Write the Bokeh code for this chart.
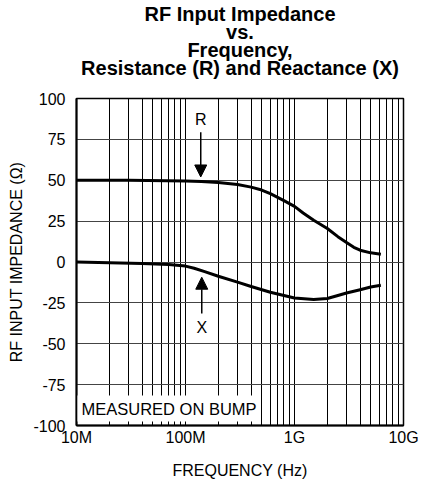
from bokeh.plotting import figure
from bokeh.models import (FixedTicker, CustomJSTickFormatter, Arrow, NormalHead,
                          Label, Title)
from bokeh.embed import file_html
from bokeh.resources import INLINE

# ---- data ----
r_freq = [1e7, 3e7, 1e8, 1.4e8, 2e8, 3e8, 4e8, 5e8, 6e8, 8e8, 1e9, 1.2e9,
          1.5e9, 2e9, 2.5e9, 3e9, 3.5e9, 4e9, 5e9, 6.2e9]
r_vals = [50, 50, 49.6, 49.3, 48.6, 47.4, 45.8, 44, 41.8, 37.5, 34, 30,
          25.5, 20.5, 15.5, 12, 9, 7.2, 5.6, 4.8]

x_freq = [1e7, 2e7, 4e7, 7e7, 1e8, 1.2e8, 1.5e8, 2e8, 3e8, 4e8, 6e8, 8e8, 1e9,
          1.5e9, 2e9, 2.5e9, 3e9, 4e9, 5e9, 6.2e9]
x_vals = [0, -0.4, -0.9, -1.6, -2.5, -3.8, -5.9, -8.7, -12.3, -15, -18.5, -20.5, -22,
          -23, -22.3, -20.5, -19, -17, -15.3, -14.2]

xtick_vals = [1e7, 1e8, 1e9, 1e10]
xtick_labels = ["10M", "100M", "1G", "10G"]
xminor = [k * 10 ** d for d in (7, 8, 9) for k in range(2, 10)]
ytick_vals = [-100, -75, -50, -25, 0, 25, 50, 75, 100]
ytick_labels = ["-100", "-75", "-50", "-25", "0", "25", "50", "75", "100"]

r_arrow = dict(x=1.38e8, y_start=79.4, y_end=52.0, label="R", label_y=87)
x_arrow = dict(x=1.41e8, y_start=-31.5, y_end=-9.3, label="X", label_y=-40)

title_lines = ["RF Input Impedance", "vs.", "Frequency,",
               "Resistance (R) and Reactance (X)"]
FONT = "Liberation Sans"

p = figure(x_axis_type="log", x_range=(1e7, 1e10), y_range=(-100, 100),
           frame_width=327, frame_height=327,
           min_border_left=76, min_border_right=20, min_border_top=98,
           min_border_bottom=56,
           output_backend="svg", toolbar_location=None,
           background_fill_color="white", border_fill_color="white")
p.title.visible = False

# spacer between frame and title block
p.add_layout(Title(text=" ", text_font_size="1px", standoff=20), "above")
# title: four centred lines, nearest line added first
for line in reversed(title_lines):
    p.add_layout(Title(text=line, align="center", text_font=FONT,
                       text_font_size="20px", text_font_style="bold",
                       text_color="black", offset=2, standoff=-6), "above")

# axes
p.xaxis.ticker = FixedTicker(ticks=xtick_vals, minor_ticks=xminor)
p.xaxis.formatter = CustomJSTickFormatter(
    args=dict(vals=xtick_vals, labels=xtick_labels),
    code="""
    for (let i = 0; i < vals.length; i++) {
        if (Math.abs(Math.log10(tick) - Math.log10(vals[i])) < 1e-6) return labels[i];
    }
    return '';
    """)
p.yaxis.ticker = FixedTicker(ticks=ytick_vals)
p.yaxis.formatter = CustomJSTickFormatter(
    args=dict(vals=ytick_vals, labels=ytick_labels),
    code="""
    for (let i = 0; i < vals.length; i++) {
        if (Math.abs(tick - vals[i]) < 1e-6) return labels[i];
    }
    return '';
    """)

for ax in (p.xaxis[0], p.yaxis[0]):
    ax.major_tick_line_color = None
    ax.minor_tick_line_color = None
    ax.axis_line_color = "black"
    ax.axis_line_width = 2
    ax.major_label_text_font = FONT
    ax.major_label_text_font_size = "16px"
    ax.major_label_text_color = "black"
    ax.axis_label_text_font = FONT
    ax.axis_label_text_font_size = "16px"
    ax.axis_label_text_font_style = "normal"
    ax.axis_label_text_color = "black"

p.xaxis.axis_label = "FREQUENCY (Hz)"
p.yaxis.axis_label = "RF INPUT IMPEDANCE (\u03a9)"
p.xaxis.major_label_standoff = -3
p.xaxis.axis_label_standoff = 13
p.yaxis.major_label_standoff = 5
p.yaxis.axis_label_standoff = 5

# grid
p.xgrid.grid_line_color = "black"
p.xgrid.grid_line_width = 1
p.xgrid.minor_grid_line_color = "black"
p.xgrid.minor_grid_line_width = 1
p.ygrid.grid_line_color = "#444444"
p.ygrid.grid_line_width = 1

p.outline_line_color = "black"
p.outline_line_width = 1.5

# curves
p.line(r_freq, r_vals, line_color="black", line_width=3, line_join="round")
p.line(x_freq, x_vals, line_color="black", line_width=3, line_join="round")

# arrows and letters
for a in (r_arrow, x_arrow):
    p.add_layout(Arrow(end=NormalHead(size=12, fill_color="black", line_color="black"),
                       x_start=a["x"], y_start=a["y_start"], x_end=a["x"], y_end=a["y_end"],
                       line_color="black", line_width=1.5))
    p.add_layout(Label(x=a["x"], y=a["label_y"], text=a["label"], text_font=FONT,
                       text_font_size="16px", text_align="center",
                       text_baseline="middle", text_color="black"))

p.add_layout(Label(x=1e7, y=-100, x_offset=1, y_offset=4, text="MEASURED ON BUMP",
                   text_font=FONT, text_font_size="16.5px", text_color="black",
                   text_baseline="bottom", text_align="left",
                   background_fill_color="white", padding=4))

open("out.html", "w").write(file_html(p, INLINE))
